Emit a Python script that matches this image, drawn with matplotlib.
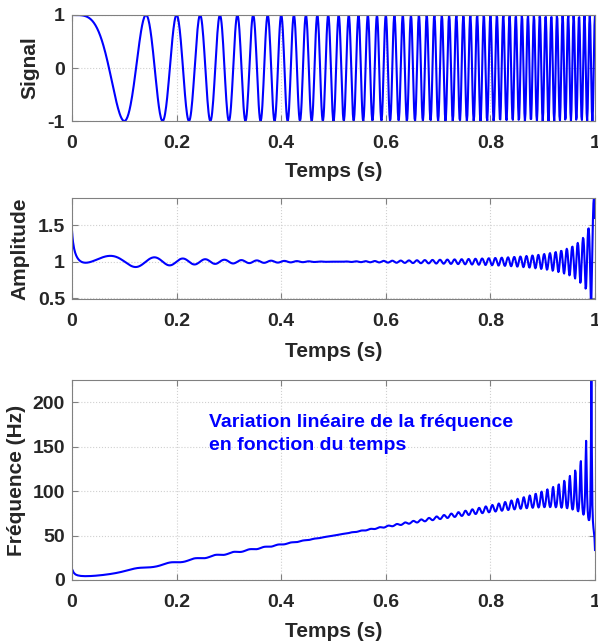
"""
Linear chirp, its Hilbert envelope and its instantaneous frequency.

Three stacked panels: the signal, the amplitude of the analytic signal
and the instantaneous frequency computed from the unwrapped phase.
"""

import matplotlib
matplotlib.use("Agg")
import matplotlib.pyplot as plt
import numpy as np

# chirp parameters: first minimum at 0.1 s,
# frequency ~100 Hz at the end of the record
SAMPLE_RATE = 1000.0      # Hz
DURATION = 1.0            # s
CHIRP_RATE = 100.0        # Hz / s

X_TICKS = [0, 0.2, 0.4, 0.6, 0.8, 1]
X_TICK_LABELS = ["0", "0.2", "0.4", "0.6", "0.8", "1"]
SIGNAL_TICKS = [-1, 0, 1]
SIGNAL_LABELS = ["-1", "0", "1"]
AMP_TICKS = [0.5, 1, 1.5]
AMP_LABELS = ["0.5", "1", "1.5"]
FREQ_TICKS = [0, 50, 100, 150, 200]
FREQ_LABELS = ["0", "50", "100", "150", "200"]

SIGNAL_LIM = (-1, 1)
AMP_LIM = (0.49, 1.87)
FREQ_LIM = (0, 225)

NOTE = "Variation linéaire de la fréquence\nen fonction du temps"

BLUE = (0, 0, 1)
TEXT = "#262626"
EDGE = "#808080"


def hilbert(x):
    n = len(x)
    spec = np.fft.fft(x)
    h = np.zeros(n)
    h[0] = 1
    if n % 2 == 0:
        h[n // 2] = 1
        h[1:n // 2] = 2
    else:
        h[1:(n + 1) // 2] = 2
    return np.fft.ifft(spec * h)


t = np.arange(0, DURATION + 0.5 / SAMPLE_RATE, 1 / SAMPLE_RATE)
signal = np.cos(np.pi * CHIRP_RATE * t ** 2)
analytic = hilbert(signal)
amplitude = np.abs(analytic)
phase = np.unwrap(np.angle(analytic))
inst_freq = np.diff(phase) / (2 * np.pi) * SAMPLE_RATE

plt.rcParams["font.family"] = ["Liberation Sans", "DejaVu Sans"]
plt.rcParams["font.weight"] = "bold"

fig = plt.figure(figsize=(5.98, 6.41), dpi=100)
ax1 = fig.add_axes([0.1204, 0.8112, 0.8746, 0.1654])
ax2 = fig.add_axes([0.1204, 0.5335, 0.8746, 0.1576])
ax3 = fig.add_axes([0.1204, 0.0952, 0.8746, 0.3120])

ax1.plot(t, signal, color=BLUE, lw=1.5)
ax2.plot(t, amplitude, color=BLUE, lw=1.5)
ax3.plot(t[1:], inst_freq, color=BLUE, lw=1.5)

ax1.set_ylim(*SIGNAL_LIM)
ax1.set_yticks(SIGNAL_TICKS)
ax1.set_yticklabels(SIGNAL_LABELS)
ax1.set_ylabel("Signal")

ax2.set_ylim(*AMP_LIM)
ax2.set_yticks(AMP_TICKS)
ax2.set_yticklabels(AMP_LABELS)
ax2.set_ylabel("Amplitude")

ax3.set_ylim(*FREQ_LIM)
ax3.set_yticks(FREQ_TICKS)
ax3.set_yticklabels(FREQ_LABELS)
ax3.set_ylabel("Fréquence (Hz)")
ax3.text(0.262, 164, NOTE, color=BLUE, fontsize=14, fontweight="bold",
         ha="left", va="center", linespacing=1.5)

# label centres (axes fraction) measured on the reference
ylabel_x = {ax1: -0.080, ax2: -0.099, ax3: -0.107}
xlabel_y = {ax1: -0.472, ax2: -0.522, ax3: -0.260}

for ax in (ax1, ax2, ax3):
    ax.set_xlim(0, 1)
    ax.set_xticks(X_TICKS)
    ax.set_xticklabels(X_TICK_LABELS)
    ax.set_xlabel("Temps (s)")
    for lab in (ax.xaxis.label, ax.yaxis.label):
        lab.set_fontsize(15)
        lab.set_fontweight("bold")
        lab.set_color(TEXT)
        lab.set_va("center")
    ax.xaxis.set_label_coords(0.5, xlabel_y[ax])
    ax.yaxis.set_label_coords(ylabel_x[ax], 0.5)
    ax.tick_params(direction="in", length=4, width=0.8, colors=EDGE,
                   labelcolor=TEXT, labelsize=14, top=True, right=True)
    ax.tick_params(axis="x", pad=10)
    ax.tick_params(axis="y", pad=5)
    ax.grid(True, linestyle=":", color="#d0d0d0", linewidth=0.8)
    for spine in ax.spines.values():
        spine.set_color(EDGE)
        spine.set_linewidth(0.8)

fig.savefig("out.png", dpi=100)
